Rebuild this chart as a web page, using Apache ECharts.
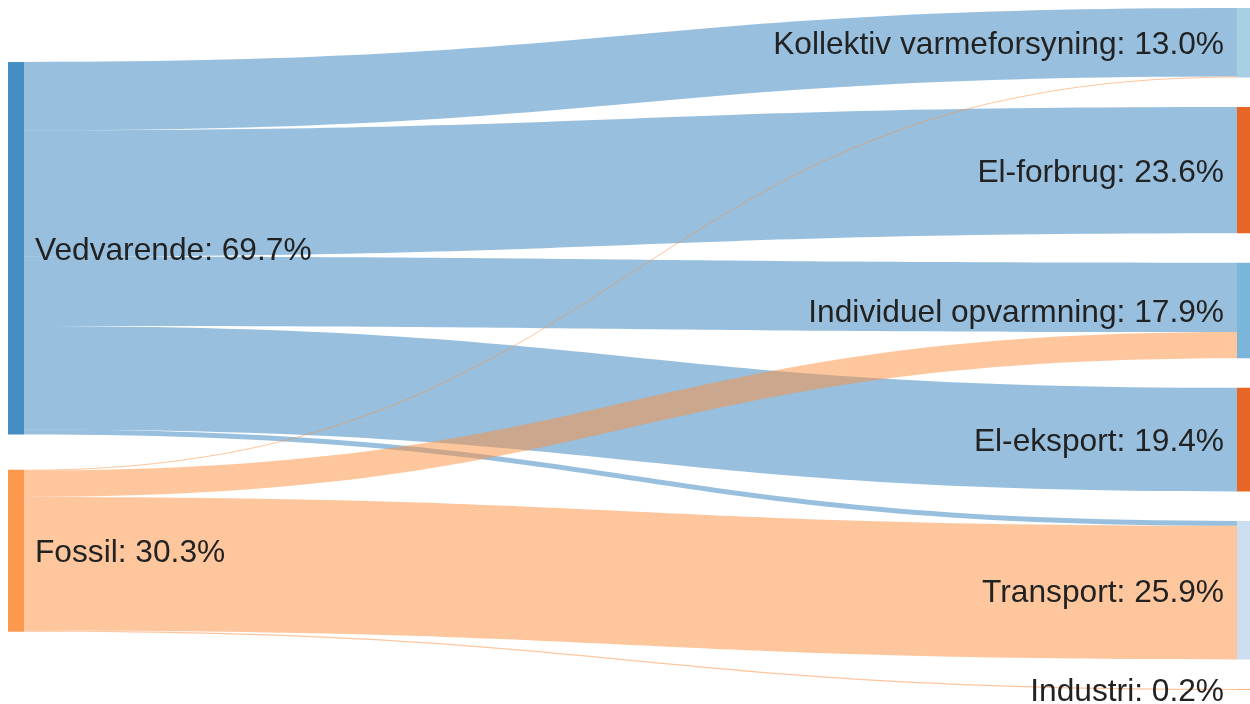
<!DOCTYPE html>
<html>
<head>
<meta charset="utf-8">
<script src="https://cdn.jsdelivr.net/npm/echarts@6/dist/echarts.min.js"></script>
<style>
  html, body { margin: 0; padding: 0; background: #fff; }
  #main { width: 1250px; height: 704px; }
</style>
</head>
<body>
<div id="main"></div>
<script>
// nodes (energy sources on the left, uses on the right)
const nodeNames = ['Vedvarende', 'Fossil', 'Kollektiv varmeforsyning', 'El-forbrug',
  'Individuel opvarmning', 'El-eksport', 'Transport', 'Industri'];
const nodeColors = ['#3182bd', '#fd8d3c', '#9ecae1', '#e6550d',
  '#6baed6', '#e6550d', '#c6dbef', '#fdae6b'];

// flows in % of total
const linkSources = ['Vedvarende', 'Vedvarende', 'Vedvarende', 'Vedvarende', 'Vedvarende',
  'Fossil', 'Fossil', 'Fossil', 'Fossil'];
const linkTargets = ['Kollektiv varmeforsyning', 'El-forbrug', 'Individuel opvarmning', 'El-eksport', 'Transport',
  'Kollektiv varmeforsyning', 'Individuel opvarmning', 'Transport', 'Industri'];
const linkValues = [12.8, 23.6, 13.0, 19.4, 0.9,
  0.2, 4.9, 25.0, 0.2];

// vertical placement of the two source nodes (fraction of layout height)
const sourceLocalY = { 'Vedvarende': 0.079, 'Fossil': 0.677 };

const chart = echarts.init(document.getElementById('main'), null, { renderer: 'canvas' });

const nodes = nodeNames.map((n, i) => {
  const item = {
    name: n,
    itemStyle: { color: nodeColors[i], opacity: 0.9, borderWidth: 0 },
    label: { position: i < 2 ? 'right' : 'left', distance: i < 2 ? 11 : 13 }
  };
  if (sourceLocalY[n] != null) item.localY = sourceLocalY[n];
  return item;
});
const links = linkValues.map((v, i) => ({
  source: linkSources[i],
  target: linkTargets[i],
  value: v
}));

chart.setOption({
  backgroundColor: '#fff',
  animation: false,
  series: [{
    type: 'sankey',
    left: 8,
    right: -3,
    top: 8,
    bottom: 14,
    nodeWidth: 16,
    nodeGap: 29.5,
    nodeAlign: 'justify',
    layoutIterations: 0,
    draggable: false,
    emphasis: { disabled: true },
    data: nodes,
    links: links,
    label: {
      color: '#222',
      fontFamily: 'Liberation Sans, Arial, sans-serif',
      fontSize: 31.7,
      offset: [0, 3],
      formatter: function (p) {
        return p.name + ': ' + p.value.toFixed(1) + '%';
      }
    },
    lineStyle: {
      color: 'source',
      opacity: 0.5,
      curveness: 0.5
    }
  }]
});
</script>
</body>
</html>
